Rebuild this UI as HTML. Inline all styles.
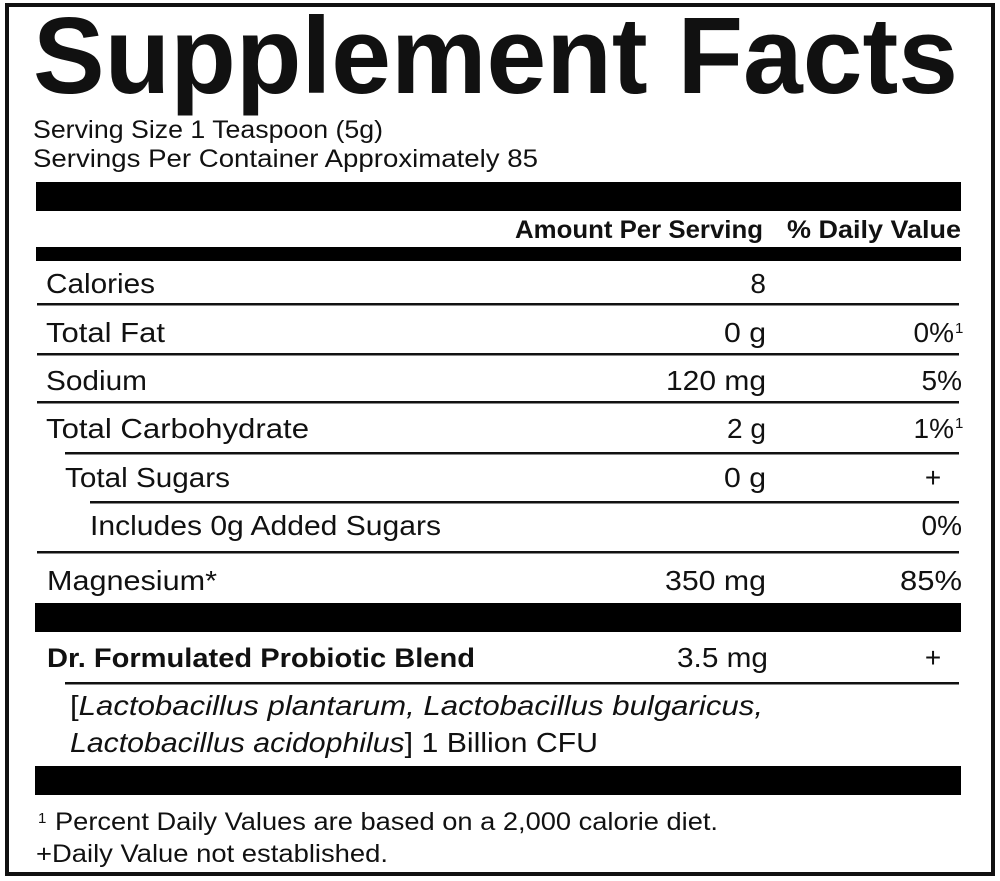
<!DOCTYPE html>
<html>
<head>
<meta charset="utf-8">
<style>
  html, body { margin: 0; padding: 0; background: #fff; }
  body { width: 1000px; height: 881px; overflow: hidden; }
  svg { display: block; }
  text { font-family: "Liberation Sans", "DejaVu Sans", sans-serif; fill: #111; }
</style>
</head>
<body>
<svg width="1000" height="881" viewBox="0 0 1000 881" xmlns="http://www.w3.org/2000/svg">
  <rect x="0" y="0" width="1000" height="881" fill="#fff"/>
  <!-- outer border -->
  <rect x="7" y="5" width="986" height="869" fill="none" stroke="#111" stroke-width="4"/>

  <!-- Title -->
  <text x="33" y="93" font-size="109" font-weight="bold" textLength="925" lengthAdjust="spacingAndGlyphs">Supplement Facts</text>

  <!-- Serving info -->
  <text x="33" y="138" font-size="25" textLength="350" lengthAdjust="spacingAndGlyphs">Serving Size 1 Teaspoon (5g)</text>
  <text x="33" y="167" font-size="25" textLength="505" lengthAdjust="spacingAndGlyphs">Servings Per Container Approximately 85</text>

  <!-- bar 1 -->
  <rect x="36" y="182" width="925" height="29" fill="#000"/>

  <!-- header -->
  <text x="515" y="238" font-size="25" font-weight="bold" textLength="248" lengthAdjust="spacingAndGlyphs">Amount Per Serving</text>
  <text x="787" y="238" font-size="25" font-weight="bold" textLength="174" lengthAdjust="spacingAndGlyphs">% Daily Value</text>

  <!-- bar 2 -->
  <rect x="36" y="247" width="925" height="14" fill="#000"/>

  <!-- Calories -->
  <text x="46" y="293" font-size="28" textLength="109" lengthAdjust="spacingAndGlyphs">Calories</text>
  <text x="766" y="293" font-size="28" text-anchor="end">8</text>
  <rect x="37" y="303" width="922" height="2.5" fill="#111"/>

  <!-- Total Fat -->
  <text x="46" y="342" font-size="28" textLength="119" lengthAdjust="spacingAndGlyphs">Total Fat</text>
  <text x="724" y="342" font-size="28" textLength="42" lengthAdjust="spacingAndGlyphs">0 g</text>
  <text x="954" y="342" font-size="28" text-anchor="end">0%</text>
  <text x="955" y="333" font-size="15">1</text>
  <rect x="37" y="353" width="922" height="2.5" fill="#111"/>

  <!-- Sodium -->
  <text x="46" y="390" font-size="28" textLength="101" lengthAdjust="spacingAndGlyphs">Sodium</text>
  <text x="666" y="390" font-size="28" textLength="100" lengthAdjust="spacingAndGlyphs">120 mg</text>
  <text x="962" y="390" font-size="28" text-anchor="end">5%</text>
  <rect x="37" y="401" width="922" height="2.5" fill="#111"/>

  <!-- Total Carbohydrate -->
  <text x="46" y="438" font-size="28" textLength="263" lengthAdjust="spacingAndGlyphs">Total Carbohydrate</text>
  <text x="727" y="438" font-size="28" textLength="39" lengthAdjust="spacingAndGlyphs">2 g</text>
  <text x="954" y="438" font-size="28" text-anchor="end">1%</text>
  <text x="955" y="428" font-size="15">1</text>
  <rect x="65" y="452" width="894" height="2.5" fill="#111"/>

  <!-- Total Sugars -->
  <text x="65" y="487" font-size="28" textLength="165" lengthAdjust="spacingAndGlyphs">Total Sugars</text>
  <text x="724" y="487" font-size="28" textLength="42" lengthAdjust="spacingAndGlyphs">0 g</text>
  <text x="933" y="487" font-size="28" text-anchor="middle">+</text>
  <rect x="90" y="501" width="869" height="2.5" fill="#111"/>

  <!-- Includes -->
  <text x="90" y="535" font-size="28" textLength="351" lengthAdjust="spacingAndGlyphs">Includes 0g Added Sugars</text>
  <text x="962" y="535" font-size="28" text-anchor="end">0%</text>
  <rect x="37" y="551" width="922" height="2.5" fill="#111"/>

  <!-- Magnesium -->
  <text x="47" y="590" font-size="28" textLength="170" lengthAdjust="spacingAndGlyphs">Magnesium*</text>
  <text x="665" y="590" font-size="28" textLength="101" lengthAdjust="spacingAndGlyphs">350 mg</text>
  <text x="900" y="590" font-size="28" textLength="62" lengthAdjust="spacingAndGlyphs">85%</text>

  <!-- bar 3 -->
  <rect x="35" y="603" width="926" height="29" fill="#000"/>

  <!-- Probiotic blend -->
  <text x="47" y="667" font-size="27" font-weight="bold" textLength="428" lengthAdjust="spacingAndGlyphs">Dr. Formulated Probiotic Blend</text>
  <text x="677" y="667" font-size="28" textLength="91" lengthAdjust="spacingAndGlyphs">3.5 mg</text>
  <text x="933" y="667" font-size="28" text-anchor="middle">+</text>
  <rect x="65" y="682" width="894" height="2.5" fill="#111"/>

  <text x="70" y="715" font-size="28" textLength="693" lengthAdjust="spacingAndGlyphs">[<tspan font-style="italic">Lactobacillus plantarum, Lactobacillus bulgaricus,</tspan></text>
  <text x="70" y="752" font-size="28" textLength="528" lengthAdjust="spacingAndGlyphs"><tspan font-style="italic">Lactobacillus acidophilus</tspan>] 1 Billion CFU</text>

  <!-- bar 4 -->
  <rect x="35" y="766" width="926" height="29" fill="#000"/>

  <!-- footnotes -->
  <text x="38" y="823" font-size="15">1</text>
  <text x="55" y="830" font-size="25" textLength="663" lengthAdjust="spacingAndGlyphs">Percent Daily Values are based on a 2,000 calorie diet.</text>
  <text x="36" y="862" font-size="25" textLength="352" lengthAdjust="spacingAndGlyphs">+Daily Value not established.</text>
</svg>
</body>
</html>
